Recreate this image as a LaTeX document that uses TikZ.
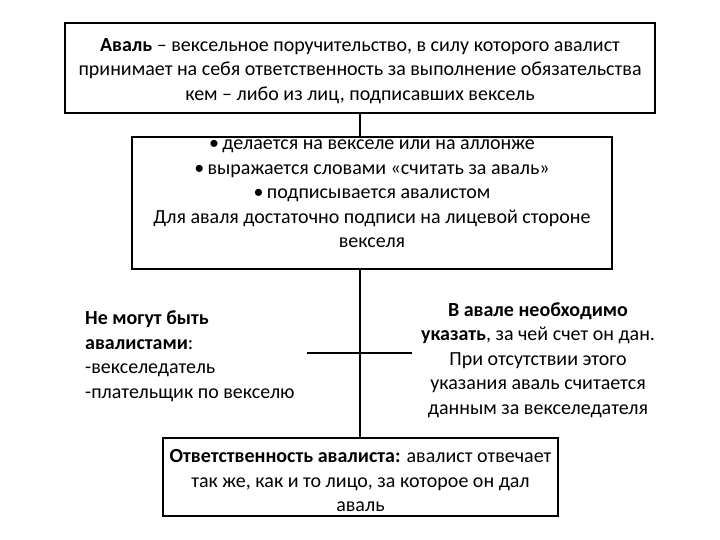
\documentclass[tikz,border=0pt]{standalone}
\usepackage{fontspec}
\setmainfont{Carlito}
\begin{document}
\begin{tikzpicture}[x=1pt,y=-1pt,
  box/.style={draw=black,line width=1.6pt,inner sep=0pt},
  txt/.style={font=\fontsize{20}{24.5}\selectfont,align=center,inner sep=0pt},
  conn/.style={draw=black,line width=1.4pt}]
\useasboundingbox (0,0) rectangle (720,540);
\node[box,minimum width=590pt,minimum height=90pt] (top) at (360,68) {};
\node[txt] (toptext) at (360,71) {\textbf{Аваль} – вексельное поручительство, в силу которого авалист\\принимает на себя ответственность за выполнение обязательства\\кем – либо из лиц, подписавших вексель};
\node[box,minimum width=480pt,minimum height=132pt] (mid) at (372,203) {};
\node[txt] (midtext) at (372,194) {•\,делается на векселе или на аллонже\\•\,выражается словами «считать за аваль»\\•\,подписывается авалистом\\Для аваля достаточно подписи на лицевой стороне\\векселя};
\node[box,minimum width=395pt,minimum height=78pt] (bot) at (360.5,477) {};
\node[txt] (bottext) at (360.5,481) {\textbf{Ответственность авалиста:} авалист отвечает\\так же, как и то лицо, за которое он дал\\аваль};
\node[txt,align=left,anchor=west] (left) at (85,356) {\textbf{Не могут быть}\\\textbf{авалистами}:\\-векселедатель\\-плательщик по векселю};
\node[txt] (right) at (538,360) {\textbf{В авале необходимо}\\\textbf{указать}, за чей счет он дан.\\При отсутствии этого\\указания аваль считается\\данным за векселедателя};
\coordinate (hl) at (307,353);
\coordinate (hr) at (412,353);
\draw[conn] (top.south -| 360,0) -- (mid.north -| 360,0);
\draw[conn] (mid.south -| 360,0) -- (bot.north -| 360,0);
\draw[conn] (hl) -- (hr);
\end{tikzpicture}
\end{document}
